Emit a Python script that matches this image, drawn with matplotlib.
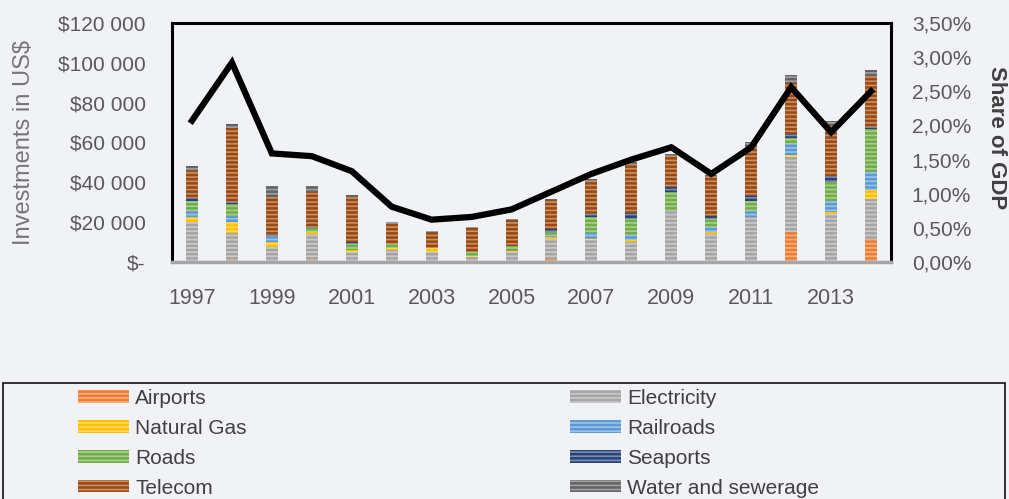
import matplotlib
matplotlib.use("Agg")
import matplotlib.pyplot as plt
from matplotlib.patches import Rectangle
from matplotlib.ticker import FuncFormatter
import numpy as np

years = list(range(1997, 2015))

# investments in US$ (stack order bottom -> top)
airports    = [0, 1000, 0, 1000, 0, 0, 0, 0, 0, 1600, 0, 0, 0, 0, 0, 15000, 0, 11700]
electricity = [20000, 13500, 7500, 13300, 5000, 5800, 5000, 2500, 5000, 10000, 10800, 10000, 25800, 14200, 22500, 37500, 24200, 20000]
natural_gas = [2500, 5500, 2500, 800, 800, 1300, 2200, 300, 700, 800, 800, 1200, 0, 800, 0, 1200, 800, 4200]
railroads   = [3300, 3300, 3300, 0, 0, 0, 0, 0, 0, 1000, 2800, 2200, 0, 2500, 3300, 5500, 5500, 9200]
roads       = [5000, 5800, 0, 2000, 3300, 2000, 0, 2000, 2500, 1700, 8000, 8300, 9200, 4200, 5000, 3300, 9500, 21700]
seaports    = [1300, 800, 500, 500, 800, 0, 0, 0, 0, 1600, 1700, 2800, 2500, 1200, 2500, 1700, 3300, 800]
telecom     = [13700, 37500, 18700, 17400, 22500, 10000, 7800, 12200, 12800, 14300, 16700, 24700, 15800, 20500, 24200, 25800, 25000, 25800]
water       = [2500, 2000, 5800, 3000, 1200, 800, 800, 800, 800, 500, 800, 800, 800, 500, 2500, 3800, 2500, 2800]

# share of GDP (%)
share_gdp = [2.07, 2.92, 1.59, 1.55, 1.33, 0.81, 0.62, 0.66, 0.77, 1.03, 1.29, 1.50, 1.68, 1.29, 1.68, 2.56, 1.90, 2.50]

sectors = [
    ("Airports", airports, "#ED7D31"),
    ("Electricity", electricity, "#A5A5A5"),
    ("Natural Gas", natural_gas, "#FFC000"),
    ("Railroads", railroads, "#5B9BD5"),
    ("Roads", roads, "#70AD47"),
    ("Seaports", seaports, "#264478"),
    ("Telecom", telecom, "#9E480E"),
    ("Water and sewerage", water, "#636363"),
]

bg = "#f0f2f6"
txt = "#595959"
plt.rcParams["font.family"] = ["Liberation Sans", "DejaVu Sans"]
plt.rcParams["hatch.linewidth"] = 1.2

fig = plt.figure(figsize=(10.09, 4.99), dpi=100, facecolor=bg)
ax = fig.add_axes([172 / 1009, 1 - 262 / 499, (891 - 172) / 1009, (262 - 23) / 499])
ax.set_facecolor(bg)

x = np.arange(len(years))
bottom = np.zeros(len(years))
handles = {}
for name, vals, col in sectors:
    vals = np.array(vals, dtype=float)
    b = ax.bar(x, vals, 0.3, bottom=bottom, color=col, edgecolor=(1, 1, 1, 0.4),
               linewidth=0, hatch="----", label=name)
    handles[name] = b
    bottom += vals

ax.set_xlim(-0.5, len(years) - 0.5)
ax.set_ylim(0, 120000)
ax.set_yticks(np.arange(0, 120001, 20000))
ax.yaxis.set_major_formatter(FuncFormatter(lambda v, p: "$-" if v == 0 else "${:,.0f}".format(v).replace(",", " ")))
ax.set_xticks(x[::2])
ax.set_xticklabels([str(y) for y in years[::2]])
ax.tick_params(axis="y", length=0, pad=19, labelsize=15, labelcolor=txt)
ax.tick_params(axis="x", length=0, pad=19, labelsize=15.5, labelcolor=txt)
ax.set_ylabel("Investments in US$", fontsize=17, color="#767676")
ax.yaxis.set_label_coords(-0.19, 0.5)

for s in ["top", "left", "right"]:
    ax.spines[s].set_color("black")
    ax.spines[s].set_linewidth(2.2)
ax.spines["bottom"].set_color("#a6a6a6")
ax.spines["bottom"].set_linewidth(2.5)

ax2 = ax.twinx()
ax2.plot(x, share_gdp, color="black", lw=4.5, solid_joinstyle="miter")
ax2.set_ylim(0, 3.5)
ax2.set_yticks(np.arange(0, 3.51, 0.5))
ax2.yaxis.set_major_formatter(FuncFormatter(lambda v, p: "{:.2f}%".format(v).replace(".", ",")))
ax2.tick_params(axis="y", length=0, pad=15, labelsize=15, labelcolor=txt)
for s in ax2.spines.values():
    s.set_visible(False)
ax2.set_ylabel("Share of GDP", fontsize=16, fontweight="bold", color="#404040", rotation=270, va="center")
ax2.yaxis.set_label_coords(1.147, 0.52)

# legend box
fig.add_artist(Rectangle((3 / 1009, -0.02), 1002 / 1009, (499 - 383) / 499 + 0.02,
                         transform=fig.transFigure, fill=False, edgecolor="#222222", lw=1.3))
order = ["Airports", "Natural Gas", "Roads", "Telecom",
         "Electricity", "Railroads", "Seaports", "Water and sewerage"]
fig.legend([handles[n] for n in order], order, loc="upper left",
           bbox_to_anchor=(78 / 1009, 1 - 389 / 499), ncol=2, frameon=False,
           fontsize=15, labelcolor="#404040", borderpad=0, borderaxespad=0,
           handlelength=2.45, handleheight=0.55, handletextpad=0.3,
           labelspacing=0.52, columnspacing=15.5)

fig.savefig("out.png", dpi=100, facecolor=bg)
